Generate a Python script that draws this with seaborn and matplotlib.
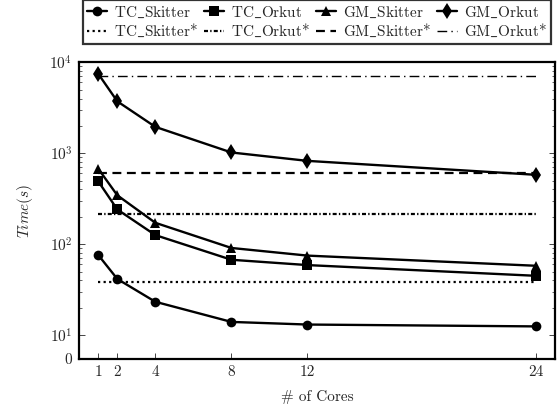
import numpy as np
import pandas as pd
import matplotlib
matplotlib.use("Agg")
import matplotlib.pyplot as plt
from matplotlib.ticker import FixedLocator, NullFormatter
import seaborn as sns

cores = [1, 2, 4, 8, 12, 24]

tc_skitter = [76, 41.5, 23.3, 14.0, 13.1, 12.5]
tc_orkut = [490, 241, 126, 67.5, 59, 45]
gm_skitter = [675, 345, 172, 91, 75, 58]
gm_orkut = [7450, 3720, 1950, 1020, 825, 580]

# single-node baselines (flat reference lines)
ref_names = ["TC_Skitter*", "TC_Orkut*", "GM_Skitter*", "GM_Orkut*"]
ref_values = [38.5, 216, 610, 7150]
ref_span = [1, 24]

series_names = ["TC_Skitter", "TC_Orkut", "GM_Skitter", "GM_Orkut"]
series_values = [tc_skitter, tc_orkut, gm_skitter, gm_orkut]
series_markers = ["o", "s", "^", "d"]
series_msize = [7, 7, 7.5, 8]
ref_styles = [(0, (1, 1.5)), (0, (1.8, 1, 0.6, 1)), (0, (4, 2.5)), (0, (7, 3, 1, 3))]
ref_widths = [1.6, 1.6, 1.6, 1.0]


def tex_label(name):
    # latex-style underscore
    return name.replace("_", r"$\_$")


sns.set_style("ticks")
plt.rcParams["font.family"] = ["cmr10", "DejaVu Serif"]
plt.rcParams["mathtext.fontset"] = "cm"
plt.rcParams["axes.formatter.use_mathtext"] = True

rows = []
for name, vals in zip(series_names, series_values):
    for c, v in zip(cores, vals):
        rows.append({"series": name, "cores": c, "time": v})
df = pd.DataFrame(rows)

ref_rows = []
for name, v in zip(ref_names, ref_values):
    for c in ref_span:
        ref_rows.append({"series": name, "cores": c, "time": v})
df_ref = pd.DataFrame(ref_rows)

fig = plt.figure(figsize=(5.59, 4.09), dpi=100)
ax = fig.add_axes([79.3 / 559, 1 - 358.5 / 409, (554.7 - 79.3) / 559, (358.5 - 62.3) / 409])

for name, m, ms in zip(series_names, series_markers, series_msize):
    sns.lineplot(data=df[df["series"] == name], x="cores", y="time", ax=ax,
                 color="black", marker=m, markersize=ms, markeredgewidth=0,
                 linewidth=1.7, label=tex_label(name))

for name, ls, lw in zip(ref_names, ref_styles, ref_widths):
    sns.lineplot(data=df_ref[df_ref["series"] == name], x="cores", y="time", ax=ax,
                 color="black", linestyle=ls, linewidth=lw, label=tex_label(name))

ax.set_yscale("log")
ybot = 10 ** 0.744
ax.set_ylim(ybot, 1e4)
ax.set_xlim(0, 25)

ax.set_xticks(cores)
ax.set_xticklabels([str(c) for c in cores])
ax.yaxis.set_major_locator(FixedLocator([ybot, 10, 100, 1000, 10000]))
ax.set_yticklabels(["0", "$10^{1}$", "$10^{2}$", "$10^{3}$", "$10^{4}$"])
minor = [k * 10 ** e for e in (1, 2, 3) for k in range(2, 10)]
ax.yaxis.set_minor_locator(FixedLocator(minor))
ax.yaxis.set_minor_formatter(NullFormatter())

ax.tick_params(axis="both", which="both", direction="in", labelsize=11)
ax.tick_params(axis="y", which="both", right=True)
ax.tick_params(axis="both", which="major", length=4, width=0.6, pad=5)
ax.tick_params(axis="y", which="minor", length=2, width=0.5)

for s in ax.spines.values():
    s.set_linewidth(1.6)
    s.set_color("black")

ax.set_xlabel("# of Cores", fontsize=11, labelpad=8)
ax.set_ylabel("$Time(s)$", fontsize=11, labelpad=10)

# row-major legend: solid series on top row, baselines below
h, l = ax.get_legend_handles_labels()
order = [0, 4, 1, 5, 2, 6, 3, 7]
leg = ax.legend([h[i] for i in order], [l[i] for i in order],
                loc="lower center", bbox_to_anchor=(0.5, 1.062), ncol=4,
                fontsize=11, frameon=True, fancybox=False, handlelength=1.3,
                handletextpad=0.45, columnspacing=0.4, borderpad=0.3,
                labelspacing=0.15, edgecolor="black", borderaxespad=0)
leg.get_frame().set_linewidth(1.6)

fig.savefig("out.png", dpi=100)
